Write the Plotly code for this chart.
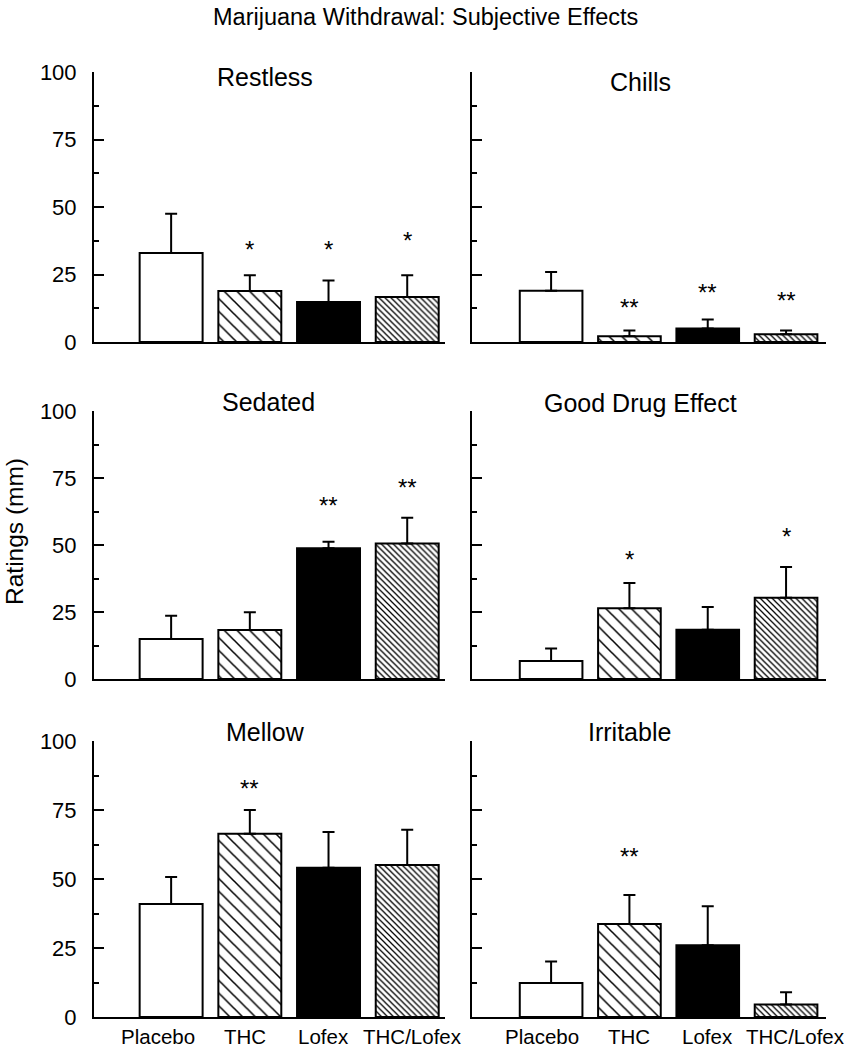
import plotly.graph_objects as go

# ---------------- data ----------------
groups = ["Placebo", "THC", "Lofex", "THC/Lofex"]
panel_names = ["Restless", "Chills", "Sedated", "Good Drug Effect", "Mellow", "Irritable"]

restless = [33.0, 18.9, 14.8, 16.7]
restless_sem = [14.5, 5.8, 8.0, 8.0]
chills = [19.0, 2.1, 5.0, 2.9]
chills_sem = [6.9, 2.2, 3.3, 1.4]
sedated = [14.9, 18.3, 48.8, 50.6]
sedated_sem = [8.7, 6.6, 2.4, 9.6]
good_drug = [6.7, 26.4, 18.4, 30.3]
good_drug_sem = [4.7, 9.4, 8.5, 11.5]
mellow = [40.9, 66.4, 54.1, 55.1]
mellow_sem = [9.8, 8.6, 12.9, 12.7]
irritable = [12.3, 33.7, 26.0, 4.5]
irritable_sem = [7.8, 10.5, 14.1, 4.5]

restless_sig = ["", "*", "*", "*"]
chills_sig = ["", "**", "**", "**"]
sedated_sig = ["", "", "**", "**"]
good_drug_sig = ["", "*", "", "*"]
mellow_sig = ["", "**", "", ""]
irritable_sig = ["", "**", "", ""]

restless_sig_y = [None, 36.4, 36.4, 39.9]
chills_sig_y = [None, 15.0, 20.5, 17.5]
sedated_sig_y = [None, None, 67.0, 73.6]
good_drug_sig_y = [None, 46.9, None, 55.3]
mellow_sig_y = [None, 85.0, None, None]
irritable_sig_y = [None, 60.3, None, None]

y_ticks = [0, 25, 50, 75, 100]

panels = [
    (restless, restless_sem, restless_sig, restless_sig_y),
    (chills, chills_sem, chills_sig, chills_sig_y),
    (sedated, sedated_sem, sedated_sig, sedated_sig_y),
    (good_drug, good_drug_sem, good_drug_sig, good_drug_sig_y),
    (mellow, mellow_sem, mellow_sig, mellow_sig_y),
    (irritable, irritable_sem, irritable_sig, irritable_sig_y),
]

# ---------------- styling / geometry ----------------
W, H = 851, 1050


def px_x(v):
    return v / W


def px_y(v):
    return 1 - v / H


x_domains = [[px_x(94), px_x(445)], [px_x(472), px_x(826)]]
x_ranges = [[-0.98, 3.48], [-1.01, 3.51]]
y_domains = [
    [px_y(342), px_y(72)],
    [px_y(679), px_y(411)],
    [px_y(1017), px_y(741)],
]
title_x = [0.487, 0.477, 0.497, 0.476, 0.49, 0.446]
title_shift = [-5, -10, 9, 8, 9, 9]
label_xshift = [[-13, -5, -5.5, 5.5], [-9.5, 0, 0, 9]]

FONT = "Liberation Sans, Arial, Helvetica, sans-serif"

group_styles = {
    "Placebo": dict(color="white", pattern=dict(shape="")),
    "THC": dict(color="white", pattern=dict(shape="\\", size=9, solidity=0.17,
                                            fgcolor="black", bgcolor="white")),
    "Lofex": dict(color="black", pattern=dict(shape="")),
    "THC/Lofex": dict(color="white", pattern=dict(shape="\\", size=4.2, solidity=0.3,
                                                  fgcolor="black", bgcolor="white")),
}

fig = go.Figure()
annotations = []

for i, (vals, sem, sig, sig_y) in enumerate(panels):
    row, col = divmod(i, 2)
    n = i + 1
    xa = "x" if n == 1 else f"x{n}"
    ya = "y" if n == 1 else f"y{n}"
    for g, v, e in zip(groups, vals, sem):
        st = group_styles[g]
        fig.add_trace(go.Bar(
            x=[g], y=[v], xaxis=xa, yaxis=ya, width=0.8,
            marker=dict(color=st["color"], pattern=st["pattern"],
                        line=dict(color="black", width=2)),
            error_y=dict(type="data", symmetric=False, array=[e],
                         arrayminus=[0], color="black", thickness=2, width=6),
            showlegend=False, name=g,
        ))
    xkey = "xaxis" if n == 1 else f"xaxis{n}"
    ykey = "yaxis" if n == 1 else f"yaxis{n}"
    fig.layout[xkey] = dict(
        domain=x_domains[col], anchor=ya, range=x_ranges[col],
        type="category", categoryorder="array", categoryarray=groups,
        showline=True, linecolor="black", linewidth=2, ticks="",
        showticklabels=False, showgrid=False, zeroline=False, automargin=False,
    )
    fig.layout[ykey] = dict(
        domain=y_domains[row], anchor=xa, range=[0, 100],
        tickvals=y_ticks, ticks="inside", ticklen=10, tickwidth=2,
        tickcolor="black", showline=True, linecolor="black", linewidth=2,
        showticklabels=(col == 0), showgrid=False, zeroline=False,
        tickfont=dict(family=FONT, size=22, color="black"),
        ticklabelstandoff=11, automargin=False,
        minor=dict(ticks="inside", ticklen=5, tickwidth=2, tickcolor="black",
                   tickvals=[12.5, 37.5, 62.5, 87.5]),
    )
    annotations.append(dict(
        text=panel_names[i], xref=f"{xa} domain", yref=f"{ya} domain",
        x=title_x[i], y=1, yshift=title_shift[i], showarrow=False,
        xanchor="center", yanchor="middle",
        font=dict(family=FONT, size=25, color="black"),
    ))
    for g, s, sy in zip(groups, sig, sig_y):
        if s and sy is not None:
            annotations.append(dict(
                text=s, x=g, y=sy, xref=xa, yref=ya, showarrow=False,
                xanchor="center", yanchor="middle", yshift=-6,
                font=dict(family=FONT, size=24, color="black"),
            ))
    if row == 2:
        for g, dx in zip(groups, label_xshift[col]):
            annotations.append(dict(
                text=g, x=g, y=0, xref=xa, yref=f"{ya} domain",
                xshift=dx, yshift=-19, showarrow=False,
                xanchor="center", yanchor="middle",
                font=dict(family=FONT, size=20.5, color="black"),
            ))

annotations.append(dict(
    text="Marijuana Withdrawal: Subjective Effects", xref="paper", yref="paper",
    x=px_x(425), y=px_y(17), showarrow=False, xanchor="center", yanchor="middle",
    font=dict(family=FONT, size=23.5, color="black"),
))
annotations.append(dict(
    text="Ratings (mm)", xref="paper", yref="paper", textangle=-90,
    x=px_x(14), y=px_y(532), showarrow=False, xanchor="center", yanchor="middle",
    font=dict(family=FONT, size=24.5, color="black"),
))

fig.update_layout(
    template="none",
    width=W, height=H, margin=dict(l=0, r=0, t=0, b=0, pad=0, autoexpand=False),
    paper_bgcolor="white", plot_bgcolor="white",
    annotations=annotations, barmode="overlay", showlegend=False,
)

fig.write_html("out.html", config={"displayModeBar": False},
               post_script="document.body.style.margin='0px';")
